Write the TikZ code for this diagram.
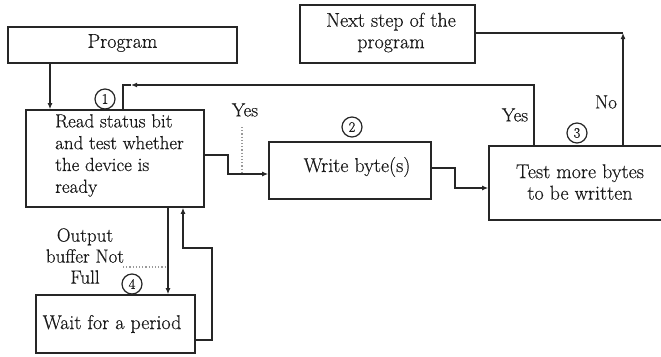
\documentclass[tikz,border=0pt]{standalone}
\usepackage{fontspec}
\setmainfont{Latin Modern Roman}[FakeBold=0.4]
\usetikzlibrary{arrows.meta}
\begin{document}
\begin{tikzpicture}[x=1pt,y=-1pt,
  line cap=butt,
  box/.style={draw=black!85, line width=1.6pt, rectangle, inner sep=0pt},
  txt/.style={font=\fontsize{20}{21.5}\selectfont, text=black!90, align=center, inner sep=0pt},
  lbl/.style={font=\fontsize{19}{20}\selectfont, text=black!90, inner sep=0pt},
  num/.style={draw=black!85, circle, line width=1.2pt, minimum size=20pt, inner sep=0pt,
              font=\fontsize{14.5}{14.5}\selectfont, text=black!90},
  wire/.style={draw=black!85, line width=1.5pt},
  arr/.style={wire, -{Latex[length=6pt,width=5pt]}},
  dots/.style={draw=black!40, line width=1.2pt, dotted}]
\useasboundingbox (0,0) rectangle (661,356);
\clip (0,0) rectangle (661,356);

% boxes
\node[box, minimum width=229pt, minimum height=36pt] (prog) at (122.5,45) {};
\node[txt] (progT) at (122.5,43) {Program};

\node[box, minimum width=175pt, minimum height=58pt] (next) at (387.5,34) {};
\node[txt] (nextT) at (391,32.5) {Next step of the\\program};

\node[box, minimum width=178pt, minimum height=97pt] (read) at (115,158.5) {};
\node[txt, font=\fontsize{19}{21.8}\selectfont, anchor=north west, align=left] (readT) at (55,114) {Read status bit\\and test whether\\the device is\\ready};

\node[box, minimum width=162pt, minimum height=57pt] (write) at (350,170.5) {};
\node[txt] (writeT) at (357,167) {Write byte(s)};

\node[box, minimum width=182pt, minimum height=74pt] (test) at (580,183) {};
\node[txt] (testT) at (580,182) {Test more bytes\\to be written};

\node[box, minimum width=159pt, minimum height=58pt] (wait) at (115.5,324) {};
\node[txt] (waitT) at (112,324) {Wait for a period};

% step numbers
\node[num] (n1) at (105,99) {1};
\node[num] (n2) at (352,127) {2};
\node[num] (n3) at (577,133) {3};
\node[num] (n4) at (132,284) {4};

% labels
\node[lbl] (yes1) at (245,110) {Yes};
\node[lbl] (yes2) at (515,115) {Yes};
\node[lbl] (no) at (606,102) {No};
\node[txt, font=\fontsize{19}{21}\selectfont] (buf) at (85,256) {Output\\buffer Not\\Full};

% junction points
\coordinate (fbtip) at (131,85);
\coordinate (fbcorner) at (123,85);
\coordinate (nojoin) at (623,33);

% program -> read
\draw[arr] (prog.south -| 50,0) -- (read.north -| 50,0);
% read -> write
\draw[arr] (read.east |- 0,155) -- (228,155) -- (228,174) -- (write.west |- 0,174);
% write -> test
\draw[arr] (write.east |- 0,168) -- (455,168) -- (455,188) -- (test.west |- 0,188);
% test -> read (yes, more bytes)
\draw[arr] (test.north -| 534,0) |- (fbtip);
\draw[wire] (fbtip) -- (fbcorner) -- (read.north -| fbcorner);
% test -> next step (no)
\draw[arr] (test.north -| nojoin) -- (nojoin);
\draw[wire] (next.east |- nojoin) -- (nojoin);
% read -> wait
\draw[arr] (read.south -| 168,0) -- (wait.north -| 168,0);
% wait -> read
\draw[arr] (wait.east |- 0,340) -- (212,340) -- (212,248) -- (183,248) -- (read.south -| 183,0);

% dotted leaders
\draw[dots] (242,127) -- (242,173);
\draw[dots] (123,267) -- (167,267);
\end{tikzpicture}
\end{document}
